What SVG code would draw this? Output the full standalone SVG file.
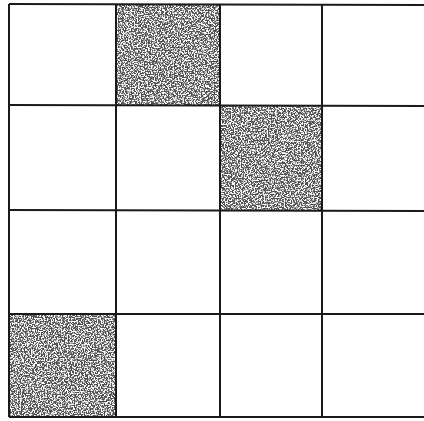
<svg xmlns="http://www.w3.org/2000/svg" width="424" height="421" viewBox="0 0 424 421">
<defs>
<filter id="speckle" x="0" y="0" width="100%" height="100%">
<feTurbulence type="fractalNoise" baseFrequency="0.7" numOctaves="2" seed="5" result="t"/>
<feColorMatrix in="t" type="matrix" values="0 0 0 0 1  0 0 0 0 1  0 0 0 0 1  0 0 0 6 -2.6" result="w"/>
<feComposite in="w" in2="SourceGraphic" operator="in"/>
</filter>
<style>
.shade{fill:#4e4e4e}
.grain{fill:#fff}
.line{stroke:#1a1a1a;stroke-width:2;fill:none}
</style>
</defs>
<rect width="424" height="421" fill="#fff"/>
<g id="shaded-cells">
<g id="cell-r0-c1"><rect class="shade" x="116" y="5" width="104" height="100"/><rect class="grain" x="116" y="5" width="104" height="100" filter="url(#speckle)"/></g>
<g id="cell-r1-c2"><rect class="shade" x="220" y="106" width="102" height="104"/><rect class="grain" x="220" y="106" width="102" height="104" filter="url(#speckle)"/></g>
<g id="cell-r3-c0"><rect class="shade" x="9" y="314" width="107" height="103"/><rect class="grain" x="9" y="314" width="107" height="103" filter="url(#speckle)"/></g>
</g>
<g id="grid-lines">
<path class="line" d="M9 4 L424 5 M9 105 L424 106 M9 210 L424 211 M9 314 L424 314 M9 417 L424 417"/>
<path class="line" d="M9 4 L9 417 M116 4 L116 417 M220 5 L220 417 M322 5 L322 417"/>
</g>
</svg>
